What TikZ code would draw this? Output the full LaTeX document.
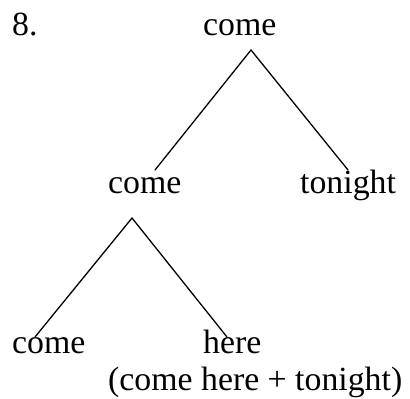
\documentclass[tikz,border=0pt]{standalone}
\usepackage{fontspec}
\setmainfont{Liberation Serif}
\begin{document}
\begin{tikzpicture}[x=1pt,y=1pt,
  word/.style={inner sep=0pt,anchor=base west,font=\fontsize{33.8}{40}\selectfont},
  branch/.style={line width=1.3pt,line cap=round}]
\useasboundingbox (0,0) rectangle (410,-399);
\node[word] (n8) at (12,-35) {8.};
\node[word] (top) at (203,-35) {come};
\node[word] (mid) at (108,-193) {come};
\node[word] (ton) at (300,-193) {tonight};
\node[word] (bl) at (12,-353) {come};
\node[word] (here) at (203,-353) {here};
\node[word] (par) at (108,-390) {(come here + tonight)};
\coordinate (a1) at (251,-50);
\coordinate (l1) at (155,-170);
\coordinate (r1) at (348,-170);
\coordinate (a2) at (132,-218);
\coordinate (l2) at (35,-337);
\coordinate (r2) at (227,-337);
\draw[branch] (l1) -- (a1) -- (r1);
\draw[branch] (l2) -- (a2) -- (r2);
\end{tikzpicture}
\end{document}
